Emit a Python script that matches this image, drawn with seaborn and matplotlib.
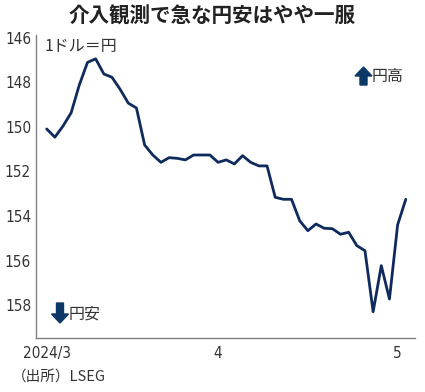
import matplotlib
matplotlib.use("Agg")
import matplotlib.pyplot as plt
import seaborn as sns
import pandas as pd
from matplotlib.patches import FancyArrow
from matplotlib import font_manager

# Daily USD/JPY (trading days from 2024/3/1), yen per dollar
rates = [150.09, 150.46, 149.96, 149.36, 148.11, 147.10, 146.94, 147.62, 147.77, 148.31,
         148.93, 149.15, 150.81, 151.26, 151.59, 151.38, 151.41, 151.48, 151.26, 151.26,
         151.26, 151.59, 151.48, 151.66, 151.29, 151.59, 151.75, 151.75, 153.16, 153.25,
         153.25, 154.21, 154.66, 154.36, 154.55, 154.57, 154.82, 154.73, 155.33, 155.56,
         158.30, 156.23, 157.73, 154.40, 153.25]
day_index = list(range(len(rates)))
tick_positions = [0, 21, 43]
tick_labels = ["2024/3", "4", "5"]
y_ticks = [146, 148, 150, 152, 154, 156, 158]

title = "介入観測で急な円安はやや一服"
unit_label = "1ドル＝円"
up_label = "円高"
down_label = "円安"
source_label = "（出所）LSEG"

df = pd.DataFrame({"day": day_index, "rate": rates})

sns.set_theme(style="white")
plt.rcParams["font.family"] = ["Noto Sans CJK JP", "DejaVu Sans"]

W, H = 425, 392
fig = plt.figure(figsize=(W / 100, H / 100), dpi=100)
ax = fig.add_axes([36 / W, 1 - 338 / H, (415 - 36) / W, (338 - 35) / H])

line_color = "#0f2a5c"
sns.lineplot(data=df, x="day", y="rate", ax=ax, color=line_color, linewidth=2.0)

ax.set_xlim(-1.31, 45.13)
ax.set_ylim(159.48, 145.87)
ax.set_xlabel("")
ax.set_ylabel("")
ax.set_yticks(y_ticks)
ax.set_xticks(tick_positions)
ax.set_xticklabels(tick_labels)

names = {f.name for f in font_manager.fontManager.ttflist}
if "Liberation Sans Narrow" in names:
    tick_fp = dict(family="Liberation Sans Narrow", stretch="normal")
elif "DejaVu Sans Condensed" in names:
    tick_fp = dict(family="DejaVu Sans Condensed", stretch="normal")
else:
    tick_fp = dict(family="DejaVu Sans", stretch="condensed")

for lab in ax.get_yticklabels() + ax.get_xticklabels():
    lab.set_family(tick_fp["family"])
    lab.set_stretch(tick_fp["stretch"])
    lab.set_fontsize(11)
    lab.set_color("#333333")

for s in ["top", "right"]:
    ax.spines[s].set_visible(False)
for s in ["left", "bottom"]:
    ax.spines[s].set_color("#808080")
    ax.spines[s].set_linewidth(1.0)
ax.tick_params(axis="both", direction="inout", length=5, width=0.8, color="#808080", pad=3)
ax.tick_params(axis="y", pad=1)
ax.grid(False)

# Title
fig.text(212 / W, 1 - 16 / H, title, ha="center", va="center", fontsize=14.8,
         fontweight="bold", color="#222222")

# Unit label
fig.text(45 / W, 1 - 46 / H, unit_label, ha="left", va="center", fontsize=11.5, color="#333333")

arrow_color = "#0b3866"
# Up arrow + 円高
fig.patches.append(FancyArrow(363.5 / W, 1 - 85 / H, 0, 18 / H, width=7 / W,
                              head_width=17 / W, head_length=9 / H,
                              length_includes_head=True, color=arrow_color,
                              transform=fig.transFigure, figure=fig))
fig.text(372 / W, 1 - 76 / H, up_label, ha="left", va="center", fontsize=11.5, color="#333333")

# Down arrow + 円安
fig.patches.append(FancyArrow(60 / W, 1 - 303 / H, 0, -20 / H, width=7 / W,
                              head_width=17 / W, head_length=9 / H,
                              length_includes_head=True, color=arrow_color,
                              transform=fig.transFigure, figure=fig))
fig.text(69 / W, 1 - 314 / H, down_label, ha="left", va="center", fontsize=11.5, color="#333333")

# Source
fig.text(12 / W, 1 - 378 / H, source_label, ha="left", va="center", fontsize=10.5, color="#333333")

fig.savefig("out.png", dpi=100, facecolor="white")
